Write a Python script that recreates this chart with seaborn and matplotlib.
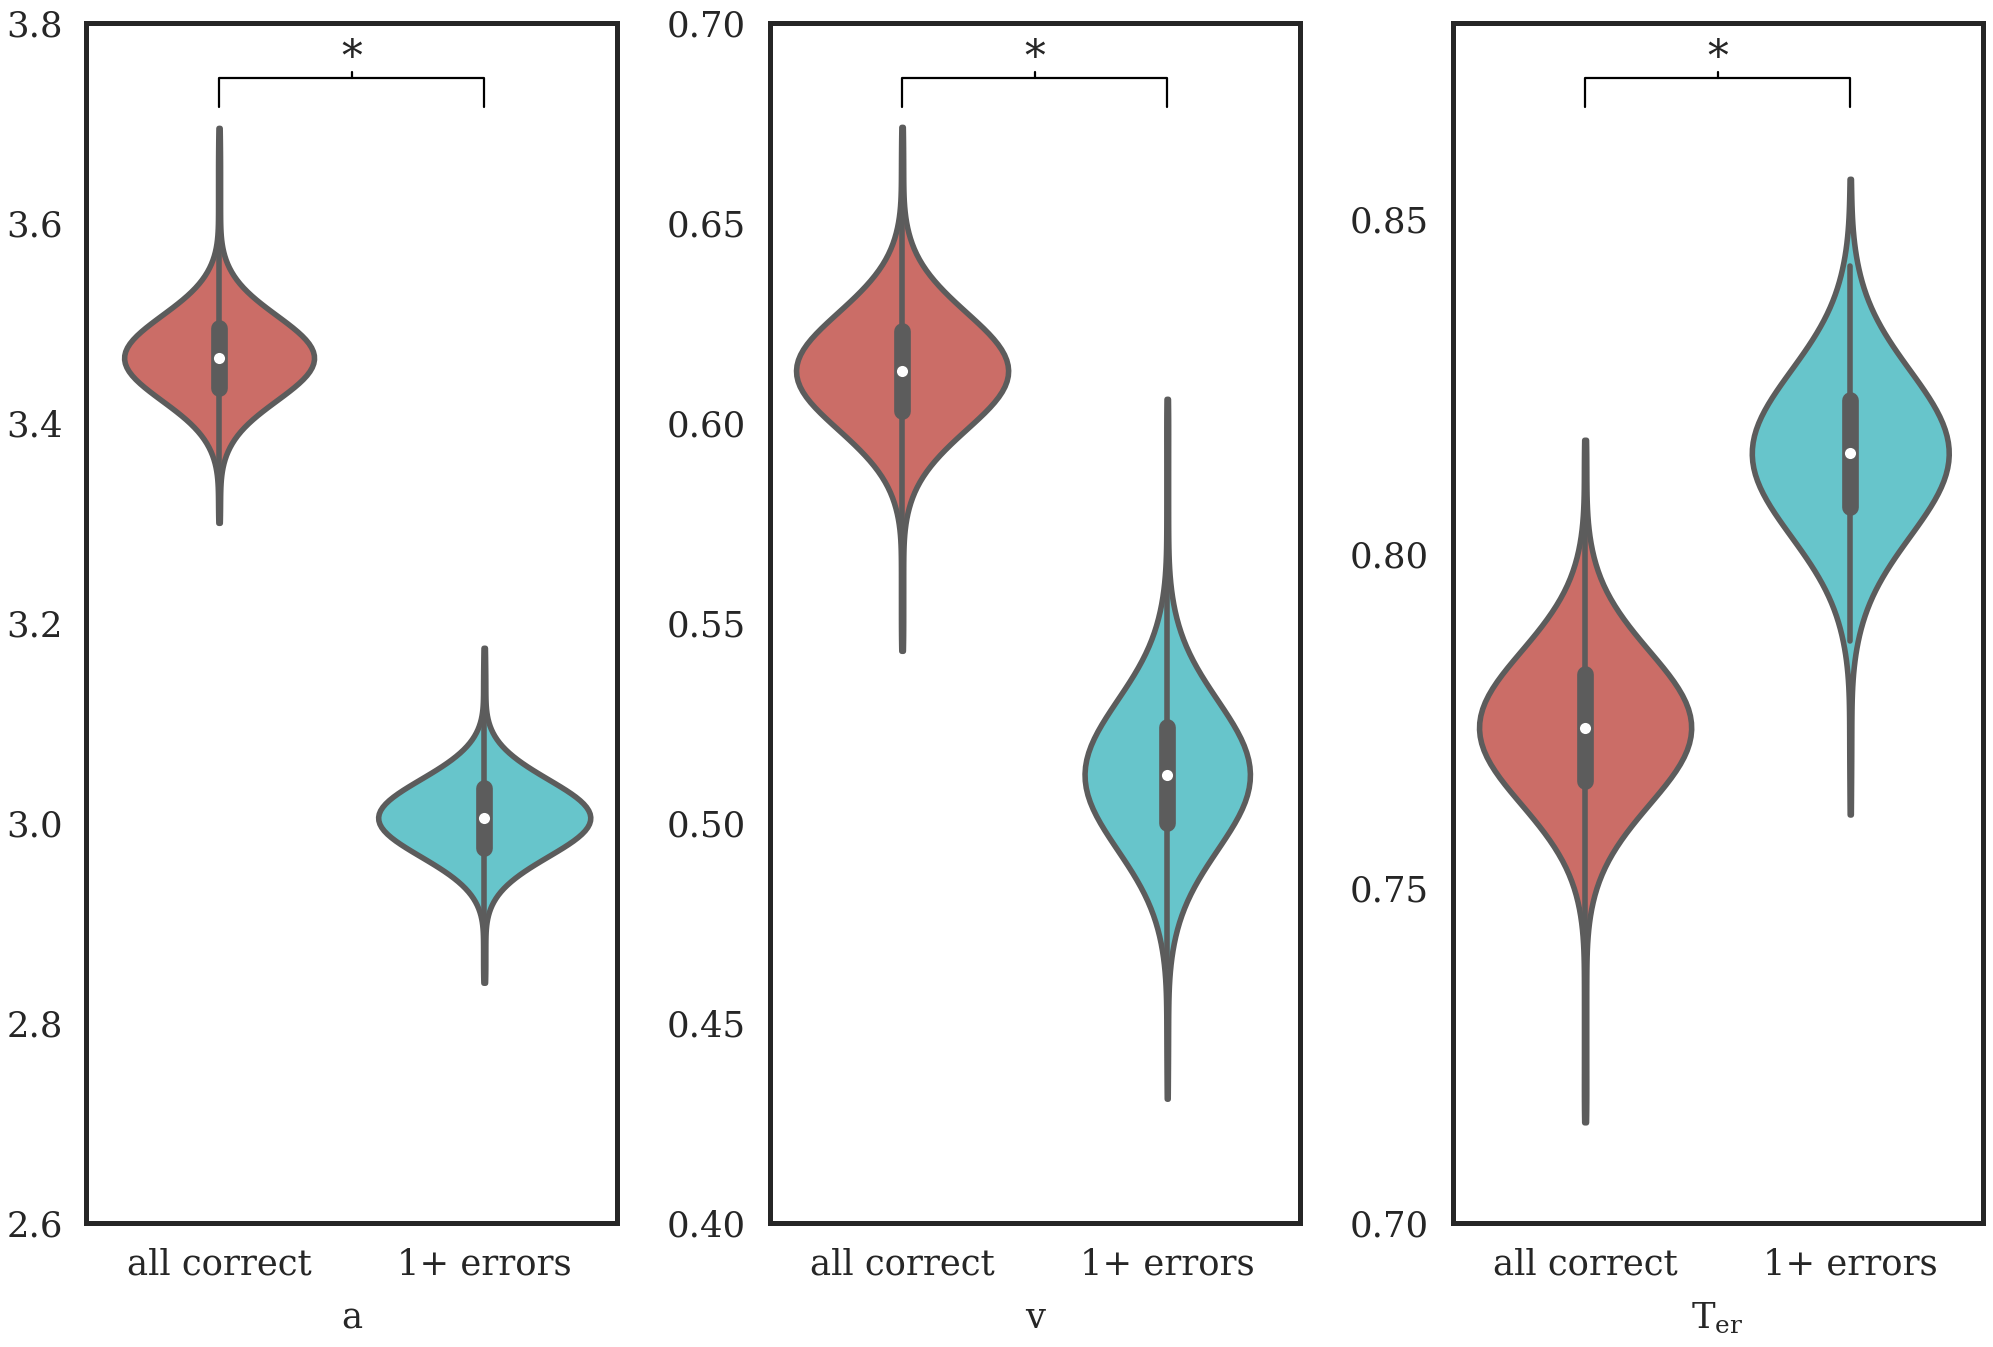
import numpy as np
import pandas as pd
import matplotlib
matplotlib.use("Agg")
import matplotlib.pyplot as plt
import matplotlib.transforms as mtransforms
from matplotlib.ticker import FormatStrFormatter
import seaborn as sns

# ------------------------------------------------------------------
# Data: posterior samples, binned (value, count)
# ------------------------------------------------------------------
groups = ["all correct", "1+ errors"]

a_correct_vals = [3.300, 3.315, 3.330, 3.345, 3.360, 3.375, 3.390, 3.405, 3.420,
                  3.435, 3.450, 3.465, 3.480, 3.495, 3.510, 3.525, 3.540, 3.555,
                  3.570, 3.585, 3.600, 3.615, 3.630, 3.645, 3.660, 3.675, 3.695]
a_correct_counts = [1, 1, 1, 1, 3, 8, 17, 32, 53, 75, 93, 100, 93, 75, 53, 32, 17, 8,
                    3, 1, 1, 1, 1, 1, 1, 1, 1]

a_errors_vals = [2.840, 2.855, 2.870, 2.885, 2.900, 2.915, 2.930, 2.945, 2.960, 2.975,
                 2.990, 3.005, 3.020, 3.035, 3.050, 3.065, 3.080, 3.095, 3.110, 3.125,
                 3.140, 3.155, 3.175]
a_errors_counts = [1, 1, 1, 1, 1, 4, 11, 25, 46, 71, 92, 100, 92, 71, 46, 25, 11, 4,
                   1, 1, 1, 1, 1]

v_correct_vals = [0.543, 0.548, 0.553, 0.558, 0.563, 0.568, 0.573, 0.578, 0.583, 0.588,
                  0.593, 0.598, 0.603, 0.608, 0.613, 0.618, 0.623, 0.628, 0.633, 0.638,
                  0.643, 0.648, 0.653, 0.658, 0.663, 0.668, 0.674]
v_correct_counts = [1, 1, 1, 1, 1, 1, 1, 4, 9, 19, 35, 55, 77, 94, 100, 94, 77, 55, 35,
                    19, 9, 4, 1, 1, 1, 1, 1]

v_errors_vals = [0.431, 0.440, 0.446, 0.452, 0.458, 0.464, 0.470, 0.476, 0.482, 0.488,
                 0.494, 0.500, 0.506, 0.512, 0.518, 0.524, 0.530, 0.536, 0.542, 0.548,
                 0.554, 0.560, 0.566, 0.572, 0.578, 0.584, 0.590, 0.596, 0.602, 0.606]
v_errors_counts = [1, 1, 1, 1, 1, 2, 6, 12, 23, 39, 59, 79, 94, 100, 94, 79, 59, 39, 23,
                   12, 6, 2, 1, 1, 1, 1, 1, 1, 1, 1]

t_correct_vals = [0.715, 0.718, 0.722, 0.726, 0.730, 0.734, 0.738, 0.742, 0.746, 0.750,
                  0.754, 0.758, 0.762, 0.766, 0.770, 0.774, 0.778, 0.782, 0.786, 0.790,
                  0.794, 0.798, 0.802, 0.806, 0.810, 0.814, 0.817]
t_correct_counts = [1, 1, 1, 1, 1, 1, 1, 1, 3, 8, 17, 33, 53, 76, 93, 100, 93, 76, 53,
                    33, 17, 8, 3, 1, 1, 1, 1]

t_errors_vals = [0.761, 0.767, 0.771, 0.775, 0.779, 0.783, 0.787, 0.791, 0.795, 0.799,
                 0.803, 0.807, 0.811, 0.815, 0.819, 0.823, 0.827, 0.831, 0.835, 0.839,
                 0.843, 0.847, 0.851, 0.856]
t_errors_counts = [1, 1, 1, 1, 1, 2, 6, 12, 23, 39, 59, 79, 94, 100, 94, 79, 59, 39, 23,
                   12, 6, 2, 1, 1]

xlabels = ["a", "v", r"$\mathrm{T}_{\mathrm{er}}$"]
ylims = [(2.6, 3.8), (0.40, 0.70), (0.70, 0.8793)]
yticks = [[2.6, 2.8, 3.0, 3.2, 3.4, 3.6, 3.8],
          [0.40, 0.45, 0.50, 0.55, 0.60, 0.65, 0.70],
          [0.70, 0.75, 0.80, 0.85]]
yfmt = ["%.1f", "%.2f", "%.2f"]

panels = [
    (a_correct_vals, a_correct_counts, a_errors_vals, a_errors_counts),
    (v_correct_vals, v_correct_counts, v_errors_vals, v_errors_counts),
    (t_correct_vals, t_correct_counts, t_errors_vals, t_errors_counts),
]


def make_frame(cv, cc, ev, ec):
    vals = np.concatenate([np.repeat(cv, cc), np.repeat(ev, ec)])
    grp = [groups[0]] * int(np.sum(cc)) + [groups[1]] * int(np.sum(ec))
    return pd.DataFrame({"group": grp, "value": vals})


# ------------------------------------------------------------------
# Style
# ------------------------------------------------------------------
sns.set_theme(style="white")
plt.rcParams["font.family"] = ["DejaVu Serif"]
plt.rcParams["mathtext.fontset"] = "dejavuserif"

LW = 4.0
FS = 25.5
fig, axes = plt.subplots(1, 3, figsize=(19.93, 13.47), dpi=100)
fig.subplots_adjust(left=0.0434, right=0.9949, bottom=0.0923, top=0.983, wspace=0.288)

for i, ax in enumerate(axes):
    df = make_frame(*panels[i])
    sns.violinplot(data=df, x="group", y="value", hue="group", order=groups,
                   hue_order=groups, palette="hls", inner="box", cut=0,
                   bw_method=0.33, common_norm=True, linewidth=LW, legend=False,
                   ax=ax, inner_kws=dict(box_width=LW * 3, whis_width=LW, marker="o"))
    for ln in ax.lines:
        ln.set_solid_capstyle("round")
        if ln.get_marker() == "o":
            ln.set_markersize(8)
            ln.set_markeredgewidth(0)
            ln.set_markerfacecolor("white")

    ax.set_ylim(*ylims[i])
    ax.set_yticks(yticks[i])
    ax.yaxis.set_major_formatter(FormatStrFormatter(yfmt[i]))
    ax.set_xlim(-0.5, 1.5)
    ax.set_ylabel("")
    ax.set_xlabel(xlabels[i], fontsize=FS, labelpad=14)
    ax.tick_params(axis="both", labelsize=FS, length=0)
    ax.tick_params(axis="x", pad=18)
    ax.tick_params(axis="y", pad=17)
    for sp in ax.spines.values():
        sp.set_linewidth(3.6)
        sp.set_color("#262626")

    # significance bracket
    trans = mtransforms.blended_transform_factory(ax.transData, ax.transAxes)
    ax.plot([0, 0, 1, 1], [0.930, 0.9538, 0.9538, 0.930], color="black",
            lw=1.6, transform=trans, clip_on=False)
    ax.plot([0.5, 0.5], [0.9538, 0.9587], color="black", lw=1.6, transform=trans)
    ax.text(0.5, 0.953, "*", ha="center", va="bottom", fontsize=30, transform=trans)

fig.savefig("out.png", dpi=100)
